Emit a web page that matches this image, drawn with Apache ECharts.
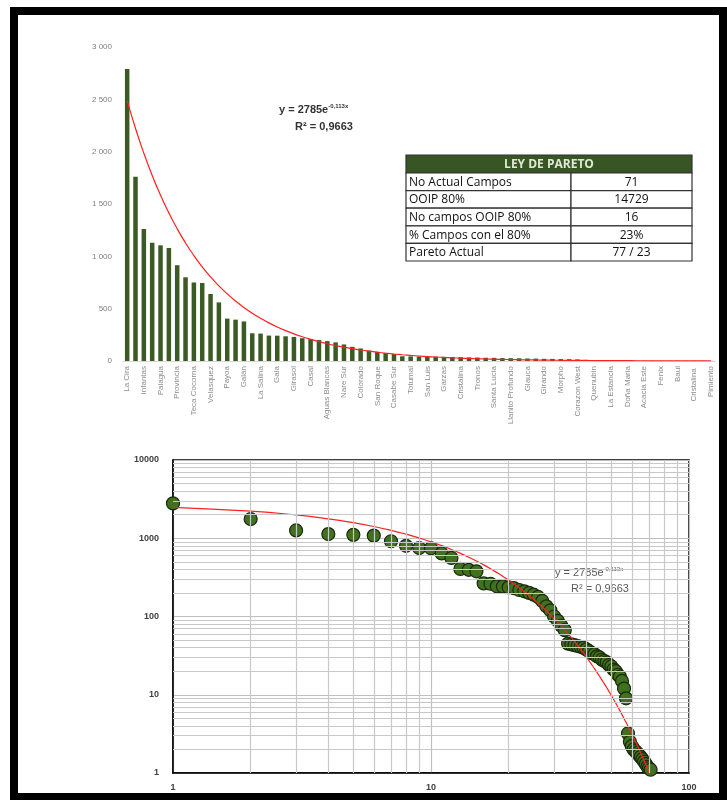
<!DOCTYPE html>
<html>
<head>
<meta charset="utf-8">
<script src="https://cdn.jsdelivr.net/npm/echarts@6/dist/echarts.min.js"></script>
<style>
html,body{margin:0;padding:0;background:#fff;}
#chart{width:727px;height:800px;}
</style>
</head>
<body>
<div id="chart"></div>
<script>
// ---- data ----
const categories = [
 'La Cira','', 'Infantas','', 'Palagua','', 'Provincia','', 'Teca Cocorna','', 'Velasquez','',
 'Payoa','', 'Galán','', 'La Salina','', 'Gala','', 'Girasol','', 'Casal','', 'Aguas Blancas','',
 'Nare Sur','', 'Colorado','', 'San Roque','', 'Casabe Sur','', 'Totumal','', 'San Luis','',
 'Garzas','', 'Cristalina','', 'Tronos','', 'Santa Lucia','', 'Llanito Profundo','', 'Glauca','',
 'Girando','', 'Morpho','', 'Corazon West','', 'Quenubin','', 'La Estancia','', 'Doña Maria','',
 'Acacia Este','', 'Fenix','', 'Baul','', 'Cristalina ','', 'Pimiento'
];
const ooip = [
 2790,1760,1260,1130,1105,1080,915,800,750,745,
 640,560,405,395,378,265,262,243,242,236,
 230,218,210,200,190,178,158,135,120,100,
 88,76,67,45,44,43,42,41,40,38,
 36,34,33,31,30,28,27,26,24,23,
 21,20,18,17,15,12,9,3.2,2.5,2.2,
 2.0,1.9,1.8,1.7,1.6,1.5,1.4,1.3,1.2,1.15,1.1
];
const trendA = 2785;
const trendB = -0.113;
const logMinorX = [2,3,4,5,6,7,8,9,20,30,40,50,60,70,80,90];
const logMinorY = [2,3,4,5,6,7,8,9,20,30,40,50,60,70,80,90,200,300,400,500,600,700,800,900,2000,3000,4000,5000,6000,7000,8000,9000];
const tableTitle = 'LEY DE PARETO';
const tableLabels = ['No Actual Campos','OOIP 80%','No campos OOIP 80%','% Campos con el 80%','Pareto Actual'];
const tableValues = ['71','14729','16','23%','77 / 23'];

// ---- derived ----
const ranks = ooip.map((v,i)=>i+1);
const trendTop = ranks.map(x => +(trendA*Math.exp(trendB*x)).toFixed(3));
const scatterData = ooip.map((v,i)=>[i+1, v]);
const trendLog = ranks.map(x => [x, +(trendA*Math.exp(trendB*x)).toFixed(4)]);

const chart = echarts.init(document.getElementById('chart'), null, {renderer:'canvas'});

// table graphic
const tX = 406, tY = 155, tW = 286, tDiv = 571, hH = 18, rH = 17.6;
const tableEls = [];
tableEls.push({type:'rect', shape:{x:tX,y:tY,width:tW,height:hH}, style:{fill:'#375623', stroke:'#333', lineWidth:1.2}});
tableEls.push({type:'text', x:tX+tW/2, y:tY+hH/2+0.5, style:{text:tableTitle, fill:'#dfe9d6', font:'bold 12px "Open Sans"', align:'center', verticalAlign:'middle'}});
tableLabels.forEach((lab,i)=>{
  const y = tY + hH + i*rH;
  tableEls.push({type:'rect', shape:{x:tX,y:y,width:tDiv-tX,height:rH}, style:{fill:'#fff', stroke:'#333', lineWidth:1.2}});
  tableEls.push({type:'rect', shape:{x:tDiv,y:y,width:tX+tW-tDiv,height:rH}, style:{fill:'#fff', stroke:'#333', lineWidth:1.2}});
  tableEls.push({type:'text', x:tX+3, y:y+rH/2+0.5, style:{text:lab, fill:'#111', font:'12px "Open Sans"', align:'left', verticalAlign:'middle'}});
  tableEls.push({type:'text', x:(tDiv+tX+tW)/2, y:y+rH/2+0.5, style:{text:tableValues[i], fill:'#111', font:'12px "Open Sans"', align:'center', verticalAlign:'middle'}});
});

const option = {
  animation:false,
  backgroundColor:'#fff',
  grid:[
    {left:123, top:47, width:592, height:314},
    {left:173, top:460, width:516, height:313, show:true, borderColor:'#000', borderWidth:1.5, backgroundColor:'transparent'}
  ],
  xAxis:[
    {type:'category', gridIndex:0, data:categories,
     axisLine:{show:true, lineStyle:{color:'#d9d9d9', width:1}},
     axisTick:{show:false},
     axisLabel:{interval:0, rotate:90, fontSize:8, color:'#8c8c8c', margin:5, fontFamily:'Liberation Sans Narrow, Liberation Sans, sans-serif'}
    },
    {type:'log', gridIndex:1, logBase:10, min:1, max:100,
     axisLine:{show:true, lineStyle:{color:'#000', width:1.5}},
     axisTick:{show:false},
     axisLabel:{fontSize:9, fontWeight:'bold', color:'#404040', margin:10, fontFamily:'Liberation Sans, sans-serif', formatter:v=>String(Math.round(v))},
     splitLine:{show:true, lineStyle:{color:'#bfbfbf', width:1.2}}
    }
  ],
  yAxis:[
    {type:'value', gridIndex:0, min:0, max:3000, interval:500,
     axisLine:{show:false}, axisTick:{show:false},
     splitLine:{show:false},
     axisLabel:{fontSize:8, color:'#7f7f7f', margin:11, fontFamily:'Liberation Sans, sans-serif',
       formatter:v=> v>=1000 ? String(Math.floor(v/1000))+' '+String(v%1000).padStart(3,'0') : String(v)}
    },
    {type:'log', gridIndex:1, logBase:10, min:1, max:10000,
     axisLine:{show:true, lineStyle:{color:'#000', width:1.5}},
     axisTick:{show:false},
     axisLabel:{fontSize:9, fontWeight:'bold', color:'#404040', margin:14, fontFamily:'Liberation Sans, sans-serif', formatter:v=>String(Math.round(v))},
     splitLine:{show:true, lineStyle:{color:'#bfbfbf', width:1.2}}
    }
  ],
  series:[
    {type:'bar', xAxisIndex:0, yAxisIndex:0, data:ooip, barWidth:4.5,
     itemStyle:{color:'#3b5a24'}, z:2},
    {type:'line', xAxisIndex:0, yAxisIndex:0, data:trendTop, smooth:true, showSymbol:false, symbol:'none',
     lineStyle:{color:'#ff2020', width:1.2}, z:3},
    {type:'line', xAxisIndex:1, yAxisIndex:1, data:[[1,1]], showSymbol:false, symbol:'none',
     lineStyle:{opacity:0}, z:1, silent:true,
     markLine:{silent:true, symbol:'none', label:{show:false},
       lineStyle:{color:'#c8c8c8', width:1.2, type:'solid'},
       data: logMinorX.map(v=>({xAxis:v})).concat(logMinorY.map(v=>({yAxis:v})))
     }
    },
    {type:'scatter', xAxisIndex:1, yAxisIndex:1, data:scatterData, symbolSize:13,
     itemStyle:{color:'#41701e', borderColor:'#1a2a0e', borderWidth:1.2, opacity:1}, z:3},
    {type:'line', xAxisIndex:1, yAxisIndex:1, data:trendLog, smooth:true, showSymbol:false, symbol:'none',
     lineStyle:{color:'#ff2020', width:1.2}, z:4, clip:true}
  ],
  graphic:[
    {type:'rect', shape:{x:14,y:11,width:709,height:786}, style:{fill:'none', stroke:'#000', lineWidth:8}, z:100},
    {type:'text', x:279, y:110, style:{
      text:'{a|y = 2785e}{s|-0,113x}', align:'left', verticalAlign:'middle',
      rich:{a:{font:'bold 11px "Liberation Sans"', fill:'#333', lineHeight:14}, s:{font:'bold 6px "Liberation Sans"', fill:'#333', verticalAlign:'top', lineHeight:14, padding:[0,0,6,0]}}}},
    {type:'text', x:324, y:127, style:{text:'R² = 0,9663', font:'bold 11px "Liberation Sans"', fill:'#333', align:'center', verticalAlign:'middle'}},
    {type:'text', x:555, y:573, style:{
      text:'{a|y = 2785e}{s|-0,113x}', align:'left', verticalAlign:'middle',
      rich:{a:{font:'11px "Liberation Sans"', fill:'#595959', lineHeight:14}, s:{font:'6px "Liberation Sans"', fill:'#595959', verticalAlign:'top', lineHeight:14, padding:[0,0,6,0]}}}},
    {type:'text', x:600, y:589, style:{text:'R² = 0,9663', font:'11px "Liberation Sans"', fill:'#595959', align:'center', verticalAlign:'middle'}}
  ].concat(tableEls)
};
chart.setOption(option);
</script>
</body>
</html>
